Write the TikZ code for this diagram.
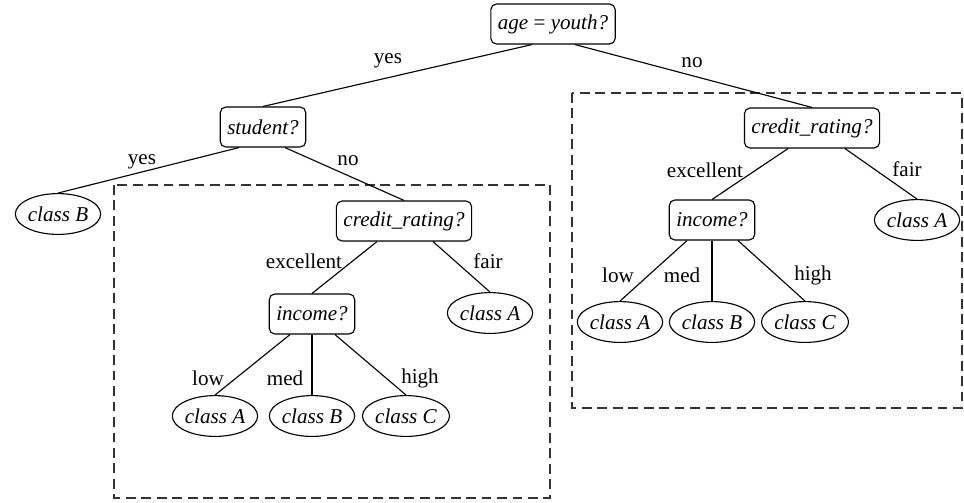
\documentclass[tikz,border=0pt]{standalone}
\usepackage{fontspec}
\setmainfont{Liberation Serif}
\usetikzlibrary{shapes.geometric, calc}

\begin{document}
\begin{tikzpicture}[x=0.025cm, y=-0.025cm,
    test/.style={draw, rounded corners=4pt, line width=0.8pt, minimum height=1cm, inner xsep=5pt, font=\fontsize{15}{18}\selectfont\itshape},
    leaf/.style={draw, ellipse, line width=0.8pt, minimum width=2.08cm, minimum height=1.02cm, inner sep=0pt, font=\fontsize{15}{18}\selectfont\itshape},
    lbl/.style={inner sep=0pt, font=\fontsize{15}{18}\selectfont},
    zone/.style={line width=1pt, dash pattern=on 7pt off 4pt, color=black!80}]
        \useasboundingbox (0,0) rectangle (964,502);
        % the two subtrees that repeat
        \draw[zone] (114,185) rectangle (550,498);
        \draw[zone] (572,93) rectangle (962,408);

        \node[test] (root) at (553,24) {age \textup{=} youth?};
        \node[test] (student) at (263,127) {student?};
        \node[test] (lcredit) at (404,221) {credit\_rating?};
        \node[test] (rcredit) at (812,128) {credit\_rating?};
        \node[test] (lincome) at (312,314) {income?};
        \node[test] (rincome) at (712,220) {income?};

        \node[leaf] (lb) at (58,214) {class B};
        \node[leaf] (lfair) at (490,313) {class A};
        \node[leaf] (la) at (215,416) {class A};
        \node[leaf] (lbb) at (312,416) {class B};
        \node[leaf] (lc) at (406,416) {class C};
        \node[leaf] (rfair) at (917,220) {class A};
        \node[leaf] (ra) at (620,322) {class A};
        \node[leaf] (rb) at (712,322) {class B};
        \node[leaf] (rc) at (805,322) {class C};

        \draw[line width=0.8pt] ($(root.south)+(-21,0)$) -- (student.north);
        \draw[line width=0.8pt] ($(root.south)+(22,0)$) -- (rcredit.north);
        \draw[line width=0.8pt] ($(student.south)+(-24,0)$) -- (lb.north);
        \draw[line width=0.8pt] ($(student.south)+(22,0)$) -- (lcredit.north);
        \draw[line width=0.8pt] ($(lcredit.south)+(-27,0)$) -- (lincome.north);
        \draw[line width=0.8pt] ($(lcredit.south)+(29,0)$) -- (lfair.north);
        \draw[line width=0.8pt] ($(lincome.south)+(-22,0)$) -- (la.north);
        \draw[line width=0.8pt] (lincome.south) -- (lbb.north);
        \draw[line width=0.8pt] ($(lincome.south)+(23,0)$) -- (lc.north);
        \draw[line width=0.8pt] ($(rcredit.south)+(-24,0)$) -- (rincome.north);
        \draw[line width=0.8pt] ($(rcredit.south)+(33,0)$) -- (rfair.north);
        \draw[line width=0.8pt] ($(rincome.south)+(-25,0)$) -- (ra.north);
        \draw[line width=0.8pt] (rincome.south) -- (rb.north);
        \draw[line width=0.8pt] ($(rincome.south)+(26,0)$) -- (rc.north);

        % branch labels
        \node[lbl] (yes1) at (388,61) {yes};
        \node[lbl] (no1) at (692,63) {no};
        \node[lbl] (yes2) at (142,162) {yes};
        \node[lbl] (no2) at (348,161) {no};
        \node[lbl] (exc1) at (304,261) {excellent};
        \node[lbl] (fair1) at (488,261) {fair};
        \node[lbl] (low1) at (208,378) {low};
        \node[lbl] (med1) at (285,378) {med};
        \node[lbl] (high1) at (420,378) {high};
        \node[lbl] (exc2) at (705,170) {excellent};
        \node[lbl] (fair2) at (907,169) {fair};
        \node[lbl] (low2) at (618,275) {low};
        \node[lbl] (med2) at (682,275) {med};
        \node[lbl] (high2) at (813,275) {high};
\end{tikzpicture}
\end{document}
